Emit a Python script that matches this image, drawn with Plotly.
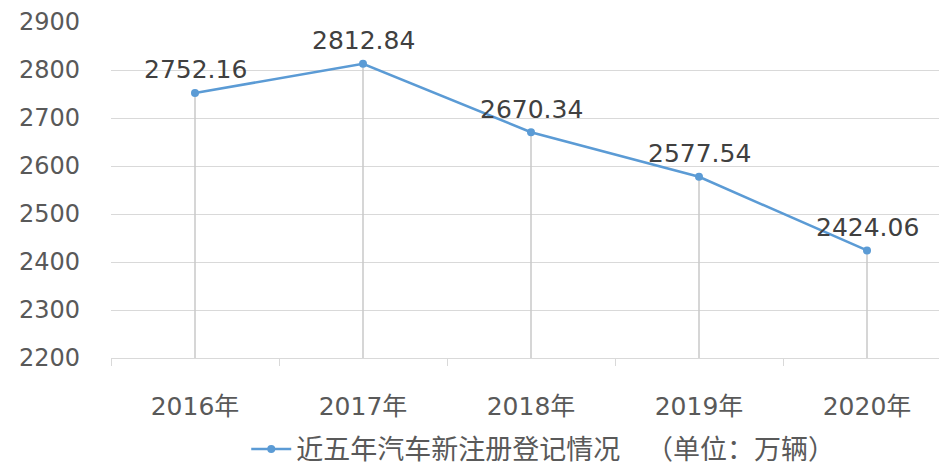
import plotly.graph_objects as go

years = ["2016年", "2017年", "2018年", "2019年", "2020年"]
values = [2752.16, 2812.84, 2670.34, 2577.54, 2424.06]
y_ticks = [2200, 2300, 2400, 2500, 2600, 2700, 2800, 2900]
series_name = "近五年汽车新注册登记情况   （单位：万辆）"

FONT = "DejaVu Sans, Noto Sans CJK SC, sans-serif"
BLUE = "#5b9bd5"

drop_x, drop_y = [], []
for xv, yv in zip(years, values):
    drop_x += [xv, xv, None]
    drop_y += [y_ticks[0], yv, None]

fig = go.Figure()
fig.add_trace(go.Scatter(x=drop_x, y=drop_y, mode="lines",
                         line=dict(color="#c8c8c8", width=1.5),
                         showlegend=False, hoverinfo="skip"))
fig.add_trace(go.Scatter(x=years, y=values, mode="lines+markers", name=series_name,
                         line=dict(color=BLUE, width=2.5),
                         marker=dict(color=BLUE, size=8)))

for xv, yv in zip(years, values):
    fig.add_annotation(x=xv, y=yv, text=f"{yv:.2f}", showarrow=False,
                       yshift=23, yanchor="middle",
                       font=dict(family=FONT, size=25, color="#404040"))

fig.update_layout(
    width=947, height=468,
    margin=dict(l=103, r=4, t=14, b=118, autoexpand=False),
    paper_bgcolor="white", plot_bgcolor="white",
    font=dict(family=FONT, color="#595959"),
    showlegend=True,
    legend=dict(orientation="h", x=0.161, xanchor="left",
                y=-0.272, yanchor="middle",
                font=dict(family=FONT, size=27, color="#595959"),
                itemwidth=40),
)
fig.update_xaxes(type="category", range=[-0.5, 4.5], tickson="boundaries",
                 ticks="outside", ticklen=7, tickcolor="#d9d9d9",
                 showgrid=False, showline=True, linecolor="#d9d9d9", linewidth=1,
                 tickfont=dict(family=FONT, size=25, color="#595959"),
                 ticklabelstandoff=26, automargin=False)
fig.update_yaxes(range=[2200, 2900], tickvals=y_ticks,
                 showgrid=True, gridcolor="#d9d9d9", gridwidth=1,
                 zeroline=False, showline=False, ticks="",
                 tickfont=dict(family=FONT, size=24, color="#595959"),
                 ticklabelstandoff=30, automargin=False)

fig.write_html("out.html")
